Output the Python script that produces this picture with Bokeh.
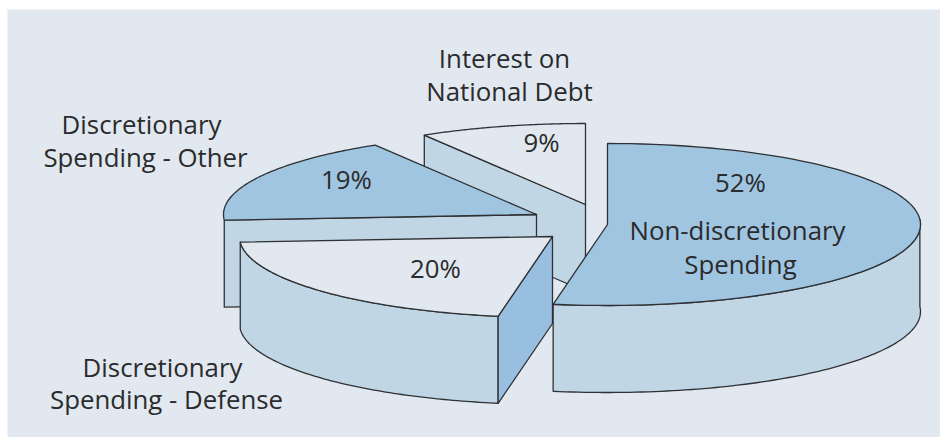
import numpy as np
from bokeh.core.properties import value
from bokeh.embed import file_html
from bokeh.models import ColumnDataSource
from bokeh.plotting import figure
from bokeh.resources import INLINE

# Shares of the budget, in percent, counter-clockwise from the top of the pie
categories = ["Interest on National Debt", "Discretionary Spending - Other",
              "Discretionary Spending - Defense", "Non-discretionary Spending"]
shares = [9, 19, 20, 52]
share_labels = ["9%", "19%", "20%", "52%"]
caption_lines = ["Interest on", "National Debt", "Discretionary", "Spending - Other",
                 "Discretionary", "Spending - Defense", "Non-discretionary", "Spending"]

# Pie projection, in page pixels
RX, RY, DEPTH = 313.0, 81.0, 87.0
apex = {"Interest on National Debt": (585, 204),
        "Discretionary Spending - Other": (536, 214),
        "Discretionary Spending - Defense": (552, 236),
        "Non-discretionary Spending": (607, 224)}

BG, TOP, RIM, CUT, INK = "#e1e8ef", "#9fc5e0", "#c0d6e4", "#98bfe0", "#2f3134"
top_fill = dict(zip(categories, [BG, TOP, BG, TOP]))
FONT = value("Open Sans")


def foreshorten(phi):
    """Parametric angle on the tilted disc for a turn of phi degrees from the top."""
    r = np.radians(phi)
    return phi - 4.865 * np.sin(r) - 1.731 * np.sin(r / 2) + 1.867 * np.sin(2 * r)


def arc(cat, a0, a1, dy=0.0, n=90):
    t = np.radians(90 + np.linspace(foreshorten(a0), foreshorten(a1), n))
    cx, cy = apex[cat]
    return cx + RX * np.cos(t), cy - RY * np.sin(t) + dy


p = figure(width=940, height=437, x_range=(0, 940), y_range=(437, 0),
           output_backend="svg", toolbar_location=None, min_border=0,
           background_fill_color="white", border_fill_color="white",
           outline_line_color=None)
p.axis.visible = False
p.grid.visible = False

p.quad(left=7, right=940, top=9, bottom=437, fill_color=BG, line_color=None)


def poly(xs, ys, fill):
    p.patch(list(xs), list(ys), fill_color=fill, line_color=INK, line_width=1.3,
            line_join="round")


edges = np.concatenate([[0], np.cumsum(shares)]) * 3.6
spans = dict(zip(categories, zip(edges[:-1], edges[1:])))

# Back to front: interest, other, defense, non-discretionary
for cat in categories:
    a0, a1 = spans[cat]
    cx, cy = apex[cat]
    xs, ys = arc(cat, a0, a1)

    if cat in categories[:2]:
        # face of the cut that looks toward the viewer
        poly([xs[-1], cx, cx, xs[-1]], [ys[-1], cy, cy + DEPTH, ys[-1] + DEPTH], RIM)
    if cat == categories[2]:
        # rim, then the darker cut face on the right
        poly(np.r_[xs, xs[::-1]], np.r_[ys, ys[::-1] + DEPTH], RIM)
        poly([xs[-1], cx, cx, xs[-1]], [ys[-1], cy, cy + DEPTH, ys[-1] + DEPTH], CUT)
    if cat == categories[3]:
        xa, ya = arc(cat, a0, 270)
        poly(np.r_[xa, xa[::-1]], np.r_[ya, ya[::-1] + DEPTH], RIM)

    poly(np.r_[cx, xs], np.r_[cy, ys], top_fill[cat])

# Text
text_x = [504, 509, 141, 145, 162, 166, 737, 740, 541, 346, 435, 740]
text_y = [57, 90, 123, 156, 366, 398, 229, 263, 141, 178, 267, 181]
src = ColumnDataSource(dict(x=text_x, y=text_y, t=caption_lines + share_labels))
p.text("x", "y", text="t", source=src, text_font=FONT, text_font_size="25.8px",
       text_color="#2b2b2d", text_align="center", text_baseline="middle")

open("out.html", "w").write(file_html(p, INLINE))
